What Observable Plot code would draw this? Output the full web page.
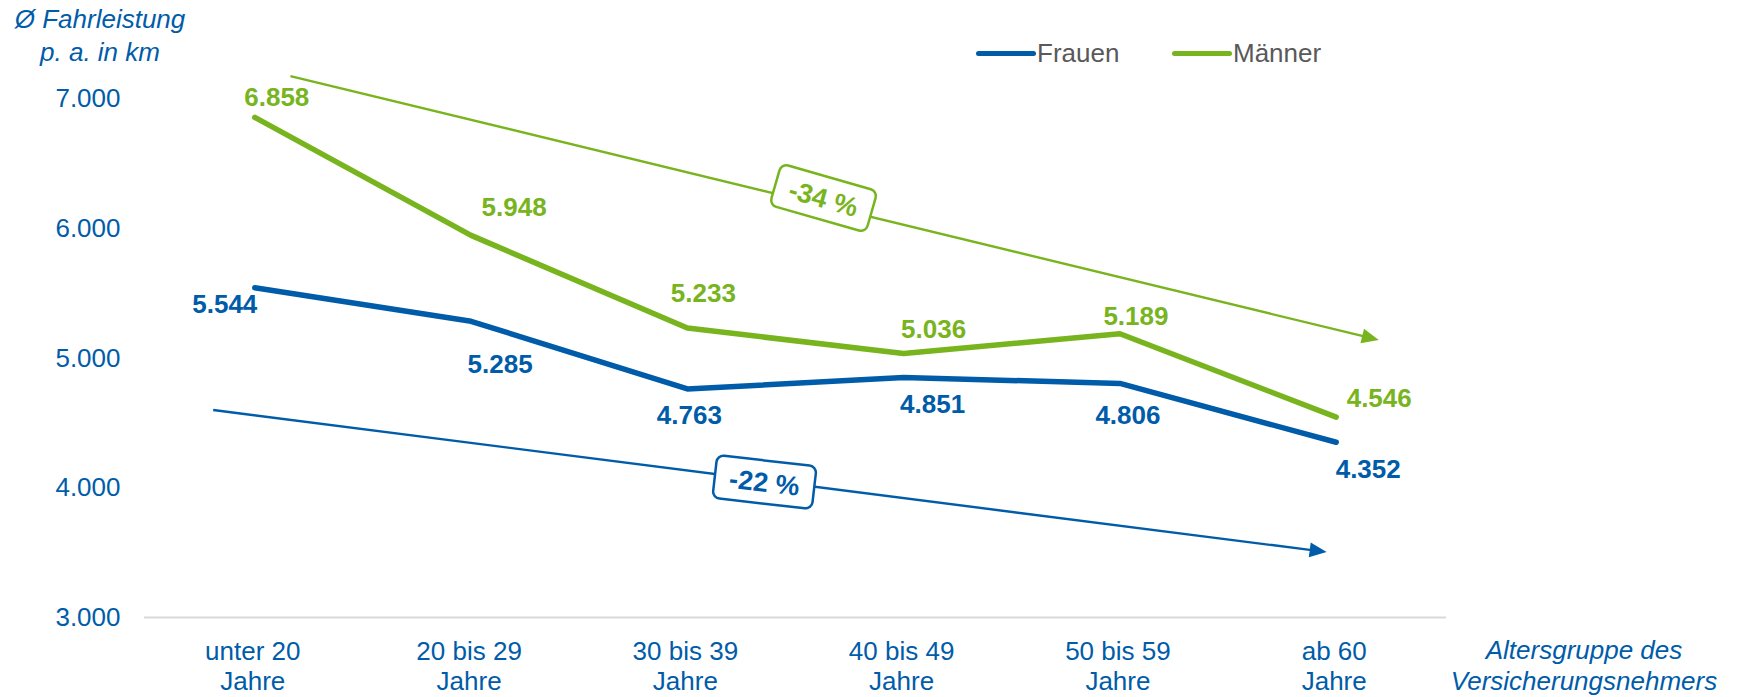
<!DOCTYPE html>
<html><head><meta charset="utf-8">
<script src="https://cdn.jsdelivr.net/npm/d3@7"></script>
<script src="https://cdn.jsdelivr.net/npm/@observablehq/plot@0.6"></script>
<style>
body{margin:0;background:#fff;font-family:"Liberation Sans",Arial,sans-serif;}
#wrap{position:relative;width:1737px;height:697px;overflow:hidden;}
#wrap svg{position:absolute;left:0;top:0;}
.ov{position:absolute;white-space:nowrap;}
</style></head><body><div id="wrap"></div>
<script>
// ---- data ----
const categories = ["unter 20\nJahre", "20 bis 29\nJahre", "30 bis 39\nJahre", "40 bis 49\nJahre", "50 bis 59\nJahre", "ab 60\nJahre"];
const frauen = [5544, 5285, 4763, 4851, 4806, 4352];
const maenner = [6858, 5948, 5233, 5036, 5189, 4546];
const yTicks = [3000, 4000, 5000, 6000, 7000];
const seriesNames = ["Frauen", "Männer"];
// trend arrows (x in category index units, y in km)
const trendStartX = [0.167, -0.19];
const trendStartY = [7173, 4597];
const trendEndX = [5.199, 4.958];
const trendEndY = [5137, 3501];
const trendLabels = ["-34 %", "-22 %"];
const trendLabelX = [2.632, 2.359];
const trendLabelY = [6232, 4041];

// ---- styling ----
const BLUE = "#005CA9", GREEN = "#78B41E", GREY = "#595959";
const trendColors = [GREEN, BLUE];
const trendRotate = [16, 6.5];
const maennerDx = [22, 43, 16, 30, 16, 43], maennerDy = [-20, -28, -34, -24, -17, -18];
const frauenDx = [-30, 29, 2, 29, 8, 32], frauenDy = [17, 43, 27, 27, 32, 27];

const fmt = d3.formatLocale({decimal: ",", thousands: ".", grouping: [3], currency: ["", " €"]}).format(",.0f");

function annotations(index, scales) {
  const {x, y} = scales;
  const g = d3.create("svg:g");
  trendLabels.forEach((lab, k) => {
    const c = trendColors[k];
    const x1 = x(trendStartX[k]), y1 = y(trendStartY[k]), x2 = x(trendEndX[k]), y2 = y(trendEndY[k]);
    const a = Math.atan2(y2 - y1, x2 - x1);
    const L = 17, W = 7.5;
    const bx = x2 - L * Math.cos(a), by = y2 - L * Math.sin(a);
    g.append("line").attr("x1", x1).attr("y1", y1)
      .attr("x2", bx + 2 * Math.cos(a)).attr("y2", by + 2 * Math.sin(a))
      .attr("stroke", c).attr("stroke-width", 2.4);
    g.append("path")
      .attr("d", `M${x2},${y2}L${bx - W * Math.sin(a)},${by + W * Math.cos(a)}L${bx + W * Math.sin(a)},${by - W * Math.cos(a)}Z`)
      .attr("fill", c);
    const bg = g.append("g").attr("transform", `translate(${x(trendLabelX[k])},${y(trendLabelY[k])}) rotate(${trendRotate[k]})`);
    bg.append("rect").attr("x", -50).attr("y", -21.5).attr("width", 100).attr("height", 43).attr("rx", 7)
      .attr("fill", "white").attr("stroke", c).attr("stroke-width", 2.5);
    bg.append("text").attr("text-anchor", "middle").attr("dy", "0.36em")
      .attr("font-weight", "bold").attr("font-size", 27).attr("fill", c).text(lab);
  });
  return g.node();
}

const labelMarks = [
  ...maenner.map((v, i) => Plot.text([v], {x: () => i, y: d => d, text: d => fmt(d), dx: maennerDx[i], dy: maennerDy[i], fill: GREEN, fontWeight: "bold", fontSize: 26})),
  ...frauen.map((v, i) => Plot.text([v], {x: () => i, y: d => d, text: d => fmt(d), dx: frauenDx[i], dy: frauenDy[i], fill: BLUE, fontWeight: "bold", fontSize: 26}))
];

const plot = Plot.plot({
  width: 1737, height: 697,
  marginLeft: 144, marginRight: 291, marginTop: 98.5, marginBottom: 80,
  x: {type: "linear", domain: [-0.51, 5.51], axis: null},
  y: {domain: [3000, 7000], axis: null},
  style: {fontFamily: "'Liberation Sans', Arial, sans-serif", fontSize: "26px", color: BLUE, background: "white", overflow: "visible"},
  marks: [
    Plot.ruleY([3000], {stroke: "#d9d9d9", strokeWidth: 2}),
    Plot.axisY(yTicks, {tickSize: 0, tickPadding: 24, tickFormat: fmt, fontSize: 26, fill: BLUE, label: null}),
    Plot.text(categories, {x: (d, i) => i, y: () => 3000, text: d => d, dx: -2, dy: 21.5, lineAnchor: "top", lineHeight: 1.154, fontSize: 26, fill: BLUE}),
    annotations,
    Plot.line(frauen, {x: (d, i) => i, y: d => d, stroke: BLUE, strokeWidth: 5.5, strokeLinejoin: "round", strokeLinecap: "round"}),
    Plot.line(maenner, {x: (d, i) => i, y: d => d, stroke: GREEN, strokeWidth: 5.5, strokeLinejoin: "round", strokeLinecap: "round"}),
    ...labelMarks
  ]
});

const wrap = document.getElementById("wrap");
wrap.appendChild(plot);

function ov(html, css) {
  const d = document.createElement("div");
  d.className = "ov";
  d.innerHTML = html;
  Object.assign(d.style, css);
  wrap.appendChild(d);
  return d;
}
// y-axis title
ov("Ø Fahrleistung<br>p. a. in km", {left: "0px", top: "3px", width: "200px", textAlign: "center", fontStyle: "italic", fontSize: "26px", lineHeight: "32.5px", color: BLUE});
// x-axis title
ov("Altersgruppe des<br>Versicherungsnehmers", {left: "1384px", top: "635px", width: "400px", textAlign: "center", fontStyle: "italic", fontSize: "26px", lineHeight: "31px", color: BLUE});
// legend
const legendX = [978, 1174];
const legendColors = [BLUE, GREEN];
seriesNames.forEach((name, k) => {
  ov("", {left: (legendX[k] - 2.5) + "px", top: "50.5px", width: "60px", height: "5px", borderRadius: "2.5px", background: legendColors[k]});
  ov(name, {left: (legendX[k] + 59) + "px", top: "40px", fontSize: "26px", lineHeight: "26px", color: GREY});
});
</script></body></html>
